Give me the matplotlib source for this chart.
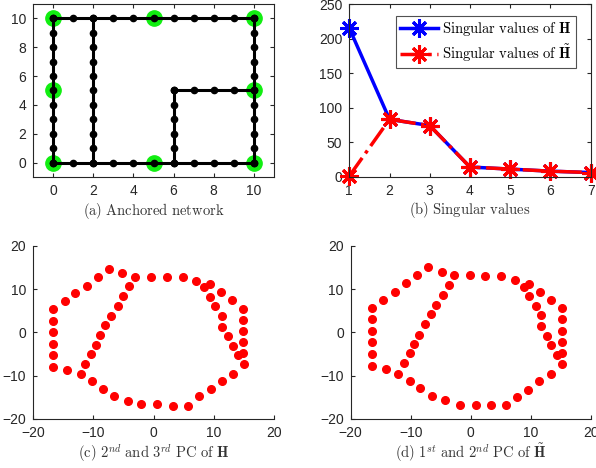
import numpy as np
import matplotlib
matplotlib.use('Agg')
import matplotlib.pyplot as plt

plt.rcParams['font.family'] = ['Liberation Sans', 'DejaVu Sans']
plt.rcParams['mathtext.fontset'] = 'cm'
plt.rcParams['xtick.direction'] = 'in'
plt.rcParams['ytick.direction'] = 'in'

# ---- (a) network: polylines, every integer point on them is a node
segments = [
    ([0, 10, 10, 0, 0], [0, 0, 10, 10, 0]),
    ([2, 2], [0, 10]),
    ([6, 6, 10], [0, 5, 5]),
]
anchor_x = [0, 5, 10, 0, 10, 0, 5, 10]
anchor_y = [0, 0, 0, 5, 5, 10, 10, 10]

# ---- (b) singular values
sv_idx = [1, 2, 3, 4, 5, 6, 7]
sv_H = [215, 83, 74, 14, 11, 8, 6]
sv_Ht = [1, 83, 74, 14, 11, 8, 6]

# ---- (c) 2nd / 3rd PC of H
pc_c_x = [-16.6, -16.6, -16.6, -16.6, -16.6, -16.6,
          -14.7, -13.0, -11.1, -9.25, -7.4, -5.2, -3.0, -0.4, 2.3, 4.9, 7.1, 8.4, 9.4, 11.2, 13.1,
          14.9, 14.9, 14.9, 14.9, 14.9, 15.1, 14.1,
          9.4, 10.2, 11.4, 11.4, 12.3, 13.2,
          13.2, 11.4, 9.5, 7.6, 5.8, 3.2, 0.6, -2.0, -4.3, -6.5, -8.4, -10.2, -12.1, -14.3,
          -11.3, -10.4, -9.6, -8.9, -8.0, -7.0, -5.9, -5.0, -4.1]
pc_c_y = [5.3, 2.7, 0.15, -2.7, -5.3, -7.9,
          7.2, 9.0, 10.8, 12.8, 14.6, 13.8, 12.8, 12.8, 12.8, 12.8, 11.8, 10.5, 11.1, 9.2, 7.4,
          5.5, 2.9, 0.4, -2.2, -4.8, -7.4, -5.3,
          8.2, 6.1, 3.8, 1.2, -0.9, -3.2,
          -9.5, -11.2, -13.1, -14.8, -16.9, -16.9, -16.6, -16.6, -15.9, -14.8, -13.1, -11.2, -9.5, -8.6,
          -7.4, -5.1, -3.0, -0.7, 1.6, 3.8, 6.1, 8.4, 10.8]

# ---- (d) 1st / 2nd PC of H tilde
pc_d_x = [-16.4, -16.4, -16.4, -16.4, -16.4, -16.4,
          -14.6, -12.7, -10.8, -8.9, -7.1, -4.8, -2.8, -0.2, 2.4, 5.1, 7.3, 8.8, 9.7, 11.6, 13.3,
          15.2, 15.2, 15.2, 15.2, 15.2, 15.2, 14.3,
          9.7, 10.8, 11.7, 11.7, 12.7, 13.4,
          13.3, 11.4, 9.5, 7.7, 5.8, 3.3, 0.8, -1.8, -4.3, -6.5, -8.4, -10.2, -12.1, -14.2,
          -11.2, -10.2, -9.5, -8.6, -7.7, -6.7, -5.8, -4.7, -3.7]
pc_d_y = [5.6, 3.0, 0.4, -2.2, -5.0, -7.7,
          7.4, 9.2, 11.3, 13.2, 15.0, 14.0, 13.2, 13.2, 12.9, 12.9, 12.1, 10.5, 11.2, 9.2, 7.4,
          5.6, 3.0, 0.4, -2.2, -4.8, -7.4, -5.3,
          8.4, 6.1, 4.0, 1.4, -0.9, -3.0,
          -9.5, -11.3, -13.2, -15.0, -16.7, -16.7, -16.7, -16.7, -15.7, -14.7, -12.9, -11.3, -9.5, -8.4,
          -7.1, -4.8, -2.7, -0.5, 1.9, 4.3, 6.4, 8.7, 10.9]

W, H = 596.0, 468.0
fig = plt.figure(figsize=(5.96, 4.68), dpi=100)


def box(l, r, t, b):
    return [l / W, 1 - b / H, (r - l) / W, (b - t) / H]


axc = '#262626'


def style(ax, full=True):
    for s in ax.spines.values():
        s.set_color(axc)
        s.set_linewidth(0.8)
    if not full:
        ax.spines['top'].set_visible(False)
        ax.spines['right'].set_visible(False)
    ax.tick_params(colors=axc, labelsize=10, length=3, width=0.8,
                   top=full, right=full, pad=5)


def caption(ax, txt):
    ax.text(0.5, -0.195, txt, transform=ax.transAxes, ha='center', va='center',
            fontsize=10.5, color='#333333')


# (a)
ax = fig.add_axes(box(33, 274, 4, 177))
ax.plot(anchor_x, anchor_y, 'o', color='#11ee11', ms=11, zorder=1)
for sx, sy in segments:
    ax.plot(sx, sy, '-', color='k', lw=2.2, zorder=2)
    for i in range(len(sx) - 1):
        n = int(max(abs(sx[i + 1] - sx[i]), abs(sy[i + 1] - sy[i])))
        px = np.linspace(sx[i], sx[i + 1], n + 1)
        py = np.linspace(sy[i], sy[i + 1], n + 1)
        ax.plot(px, py, 'o', color='k', ms=4.5, zorder=3)
ax.set_xlim(-1, 11)
ax.set_ylim(-1, 11)
ax.set_xticks([0, 2, 4, 6, 8, 10])
ax.set_yticks([0, 2, 4, 6, 8, 10])
style(ax)
caption(ax, r'$\mathrm{(a)\ Anchored\ network}$')

# (b)
ax = fig.add_axes(box(349.3, 590.7, 4, 176.7))
ast = (8, 2, 0)
ax.plot(sv_idx, sv_H, '-', color='#0000ff', lw=2.5, marker=ast, ms=13, mew=2.2,
        label=r'$\mathrm{Singular\ values\ of\ }\mathbf{H}$', clip_on=False)
ax.plot(sv_idx, sv_Ht, '-.', color='#ff0000', lw=2.5, marker=ast, ms=13, mew=2.2,
        label=r'$\mathrm{Singular\ values\ of\ }\tilde{\mathbf{H}}$', clip_on=False)
ax.set_xlim(1, 7)
ax.set_ylim(0, 250)
ax.set_xticks(sv_idx)
ax.set_yticks([0, 50, 100, 150, 200, 250])
style(ax)
leg = ax.legend(loc='upper right', fontsize=10.5, frameon=True, fancybox=False,
                edgecolor=axc, borderpad=0.3, handlelength=2.6, labelspacing=0.25,
                handletextpad=0.3, bbox_to_anchor=(0.94, 0.93), borderaxespad=0)
leg.get_frame().set_linewidth(0.8)
caption(ax, r'$\mathrm{(b)\ Singular\ values}$')

# (c)
ax = fig.add_axes(box(33, 274, 245.7, 419))
ax.plot(pc_c_x, pc_c_y, 'o', color='#ff0000', ms=5.5)
ax.set_xlim(-20, 20)
ax.set_ylim(-20, 20)
ax.set_xticks([-20, -10, 0, 10, 20])
ax.set_yticks([-20, -10, 0, 10, 20])
style(ax, full=False)
caption(ax, r'$\mathrm{(c)\ 2}^{nd}\mathrm{\ and\ 3}^{rd}\mathrm{\ PC\ of\ }\mathbf{H}$')

# (d)
ax = fig.add_axes(box(350.7, 590.7, 245.7, 419))
ax.plot(pc_d_x, pc_d_y, 'o', color='#ff0000', ms=5.5)
ax.set_xlim(-20, 20)
ax.set_ylim(-20, 20)
ax.set_xticks([-20, -10, 0, 10, 20])
ax.set_yticks([-20, -10, 0, 10, 20])
style(ax, full=False)
caption(ax, r'$\mathrm{(d)\ 1}^{st}\mathrm{\ and\ 2}^{nd}\mathrm{\ PC\ of\ }\tilde{\mathbf{H}}$')

fig.savefig('out.png', dpi=100)
